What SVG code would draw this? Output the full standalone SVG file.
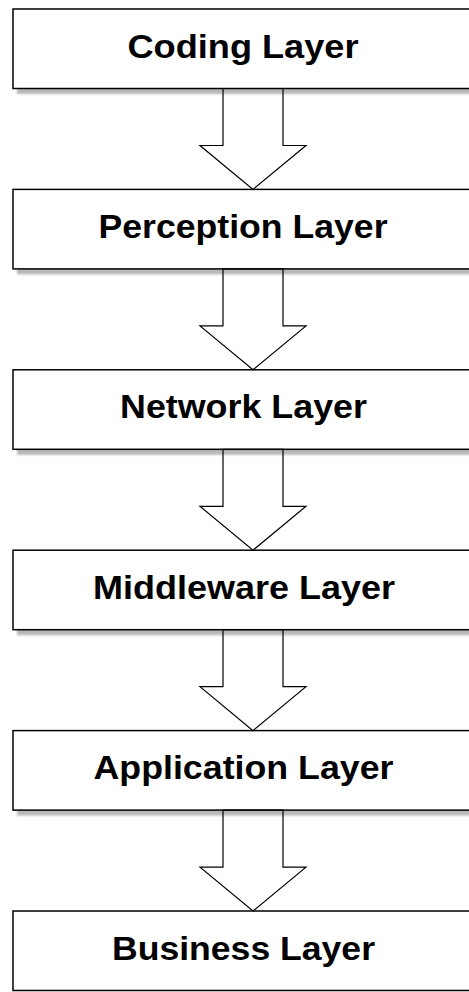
<svg xmlns="http://www.w3.org/2000/svg" width="469" height="992" viewBox="0 0 469 992">
<defs>
<filter id="sh" x="-5%" y="-20%" width="110%" height="140%"><feGaussianBlur stdDeviation="1.3"/></filter>
</defs>
<style>
.shadow{fill:#888888;opacity:0.6;filter:url(#sh)}
.box{fill:#ffffff;stroke:#000000;stroke-width:1.5}
.lbl{font-family:"Liberation Sans",Arial,sans-serif;font-weight:bold;font-size:33px;fill:#000000;text-anchor:middle}
.arr{fill:none;stroke:#000000;stroke-width:1.2;stroke-linejoin:miter}
</style>
<rect width="469" height="992" fill="#ffffff"/>
<g id="n1"><rect class="shadow" x="17" y="13" width="480" height="81"/><rect class="box" x="13" y="9" width="480" height="79.5"/><text class="lbl" x="243" y="57.5" textLength="231" lengthAdjust="spacingAndGlyphs">Coding Layer</text></g>
<g id="n2"><rect class="shadow" x="17" y="193.4" width="480" height="81"/><rect class="box" x="13" y="189.4" width="480" height="79.5"/><text class="lbl" x="243" y="237.9" textLength="289" lengthAdjust="spacingAndGlyphs">Perception Layer</text></g>
<g id="n3"><rect class="shadow" x="17" y="373.8" width="480" height="81"/><rect class="box" x="13" y="369.8" width="480" height="79.5"/><text class="lbl" x="243.5" y="418.3" textLength="247" lengthAdjust="spacingAndGlyphs">Network Layer</text></g>
<g id="n4"><rect class="shadow" x="17" y="554.2" width="480" height="81"/><rect class="box" x="13" y="550.2" width="480" height="79.5"/><text class="lbl" x="244" y="598.7" textLength="302" lengthAdjust="spacingAndGlyphs">Middleware Layer</text></g>
<g id="n5"><rect class="shadow" x="17" y="734.6" width="480" height="81"/><rect class="box" x="13" y="730.6" width="480" height="79.5"/><text class="lbl" x="243.5" y="779.1" textLength="300" lengthAdjust="spacingAndGlyphs">Application Layer</text></g>
<g id="n6"><rect class="box" x="13" y="911" width="480" height="79.5"/><text class="lbl" x="243.5" y="959.5" textLength="263" lengthAdjust="spacingAndGlyphs">Business Layer</text></g>
<g id="connectors">
<polygon class="arr" points="223,88.5 283,88.5 283,145.5 306,145.5 253,189.4 200,145.5 223,145.5"/>
<polygon class="arr" points="223,268.9 283,268.9 283,325.9 306,325.9 253,369.8 200,325.9 223,325.9"/>
<polygon class="arr" points="223,449.3 283,449.3 283,506.3 306,506.3 253,550.2 200,506.3 223,506.3"/>
<polygon class="arr" points="223,629.7 283,629.7 283,686.7 306,686.7 253,730.6 200,686.7 223,686.7"/>
<polygon class="arr" points="223,810.1 283,810.1 283,867.1 306,867.1 253,911 200,867.1 223,867.1"/>
</g>
</svg>
